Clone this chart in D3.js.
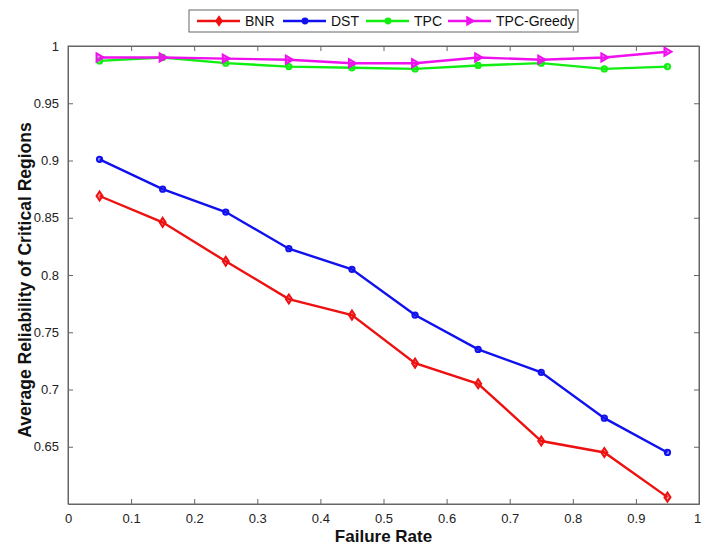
<!DOCTYPE html>
<html><head><meta charset="utf-8">
<script src="https://cdn.jsdelivr.net/npm/d3@7"></script>
<style>body{margin:0;background:#fff}svg{display:block}text{font-family:"Liberation Sans",Arial,sans-serif}</style>
</head><body>
<svg id="c" width="702" height="548"></svg>
<script>
const xValues = [0.05,0.15,0.25,0.35,0.45,0.55,0.65,0.75,0.85,0.95];
const bnr = [0.869,0.846,0.812,0.779,0.765,0.723,0.705,0.655,0.645,0.606];
const dst = [0.901,0.875,0.855,0.823,0.805,0.765,0.735,0.715,0.675,0.645];
const tpc = [0.987,0.990,0.985,0.982,0.981,0.980,0.983,0.985,0.980,0.982];
const tpcGreedy = [0.990,0.990,0.989,0.988,0.985,0.985,0.990,0.988,0.990,0.995];
const xTicks = [0,0.1,0.2,0.3,0.4,0.5,0.6,0.7,0.8,0.9,1];
const yTicks = [0.65,0.7,0.75,0.8,0.85,0.9,0.95,1];
const seriesNames = ["BNR","DST","TPC","TPC-Greedy"];
const seriesColors = ["#ee1111","#1111ee","#11ee11","#ee11ee"];
const seriesMarkers = ["diamond","circle","circle","triangle"];

const svg = d3.select("#c");
const L=68,R=699,T=46,B=504;
const x = d3.scaleLinear().domain([0,1]).range([L,R]);
const y = d3.scaleLinear().domain([0.6,1]).range([B,T]);
const axisColor="#666";

svg.append("rect").attr("x",L).attr("y",T).attr("width",R-L).attr("height",B-T)
  .attr("fill","none").attr("stroke",axisColor).attr("stroke-width",1);

const fmt = d=>String(+d.toFixed(2));
const gx = svg.append("g").attr("transform",`translate(0,${B})`)
  .call(d3.axisBottom(x).tickValues(xTicks).tickFormat(fmt).tickSizeInner(-5).tickSizeOuter(0).tickPadding(10));
const gy = svg.append("g").attr("transform",`translate(${L},0)`)
  .call(d3.axisLeft(y).tickValues(yTicks).tickFormat(fmt).tickSizeInner(-5).tickSizeOuter(0).tickPadding(9));
const gx2 = svg.append("g").attr("transform",`translate(0,${T})`)
  .call(d3.axisTop(x).tickValues(xTicks).tickFormat("").tickSizeInner(-5).tickSizeOuter(0));
const gy2 = svg.append("g").attr("transform",`translate(${R},0)`)
  .call(d3.axisRight(y).tickValues(yTicks).tickFormat("").tickSizeInner(-5).tickSizeOuter(0));
[gx,gy,gx2,gy2].forEach(g=>{
  g.select(".domain").attr("stroke",axisColor);
  g.selectAll(".tick line").attr("stroke",axisColor);
  g.selectAll(".tick text").attr("fill","#222").style("font-size","13px").style("font-family","'Liberation Sans',Arial,sans-serif");
});
gx.selectAll(".tick text").filter(d=>d===1).attr("dx","-2");

const allSeries = [bnr,dst,tpc,tpcGreedy];
function markerPath(type){
  if(type==="diamond") return "M0,-4.5L3,0L0,4.5L-3,0Z";
  if(type==="triangle") return "M-3,-4L4,0L-3,4Z";
  return d3.symbol().type(d3.symbolCircle).size(22)();
}
allSeries.forEach((vals,i)=>{
  const pts = xValues.map((xv,j)=>[xv,vals[j]]);
  svg.append("path").datum(pts).attr("fill","none").attr("stroke",seriesColors[i]).attr("stroke-width",2.4)
    .attr("d",d3.line().x(d=>x(d[0])).y(d=>y(d[1])));
  svg.append("g").selectAll("path").data(pts).join("path")
    .attr("transform",d=>`translate(${x(d[0])},${y(d[1])})`)
    .attr("d",markerPath(seriesMarkers[i]))
    .attr("fill",seriesColors[i]).attr("fill-opacity",0.4)
    .attr("stroke",seriesColors[i]).attr("stroke-width",2);
});

svg.append("text").attr("x",(L+R)/2).attr("y",542).attr("text-anchor","middle")
  .style("font-size","17px").style("font-weight","bold").attr("fill","#111").text("Failure Rate");
svg.append("text").attr("transform",`translate(31,280) rotate(-90)`).attr("text-anchor","middle")
  .style("font-size","17.5px").style("font-weight","bold").attr("fill","#111").text("Average Reliability of Critical Regions");

const lg = svg.append("g");
lg.append("rect").attr("x",189).attr("y",10).attr("width",389).attr("height",22)
  .attr("fill","#fff").attr("stroke",axisColor).attr("stroke-width",1);
const legX = [197,283,366,448];
seriesNames.forEach((n,i)=>{
  const x0=legX[i], cy=21;
  lg.append("line").attr("x1",x0).attr("x2",x0+43).attr("y1",cy).attr("y2",cy)
    .attr("stroke",seriesColors[i]).attr("stroke-width",2.4);
  lg.append("path").attr("transform",`translate(${x0+22},${cy})`).attr("d",markerPath(seriesMarkers[i]))
    .attr("fill",seriesColors[i]).attr("stroke",seriesColors[i]).attr("stroke-width",1.5);
  lg.append("text").attr("x",x0+48).attr("y",cy+5).style("font-size","14px").attr("fill","#111").text(n);
});
</script>
</body></html>
